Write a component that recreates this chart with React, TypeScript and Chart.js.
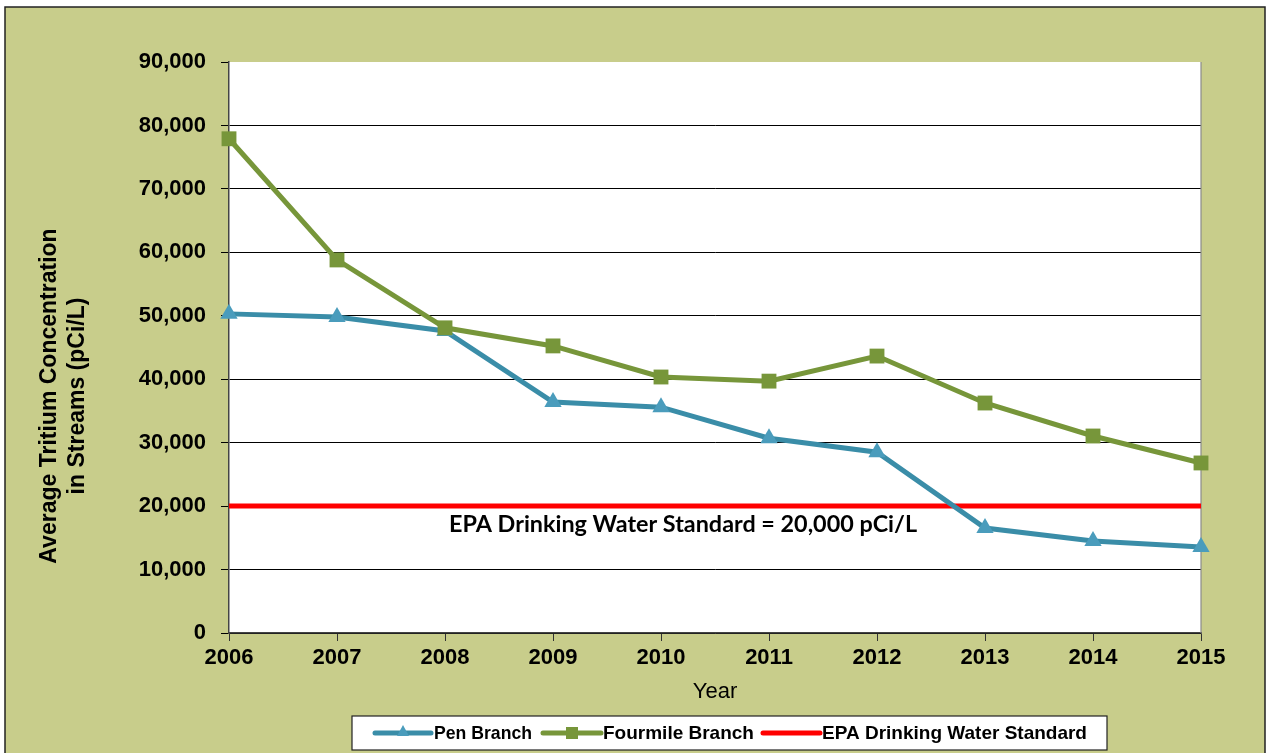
import React, { useEffect, useRef } from "react";
import { Chart, registerables } from "chart.js";

Chart.register(...registerables);

const years = ["2006", "2007", "2008", "2009", "2010", "2011", "2012", "2013", "2014", "2015"];
const penBranch = [50300, 49800, 47600, 36400, 35600, 30700, 28500, 16550, 14500, 13550];
const fourmileBranch = [77900, 58800, 48100, 45250, 40350, 39700, 43650, 36250, 31050, 26800];
const epaStandard = [20000, 20000, 20000, 20000, 20000, 20000, 20000, 20000, 20000, 20000];
const yTitleLines = ["Average Tritium Concentration", "in Streams (pCi/L)"];
const annotationText = "EPA Drinking Water Standard = 20,000 pCi/L";
const legendLabels = ["Pen Branch", "Fourmile Branch", "EPA Drinking Water Standard"];

const TEAL = "#3A8DA8";
const TEAL_PT = "#4A9CBC";
const GREEN = "#77963A";
const RED = "#FF0000";
const OLIVE = "#C8CD8B";
const FONT = '"Liberation Sans", Arial, sans-serif';

const decorPlugin = {
  id: "decor",
  beforeDraw(chart: any) {
    const { ctx, chartArea } = chart;
    ctx.save();
    ctx.fillStyle = "#FFFFFF";
    ctx.fillRect(0, 0, chart.width, chart.height);
    ctx.fillStyle = OLIVE;
    ctx.fillRect(5, 7, 1260, chart.height);
    ctx.strokeStyle = "#222";
    ctx.lineWidth = 1.5;
    ctx.beginPath();
    ctx.moveTo(5, chart.height + 2);
    ctx.lineTo(5, 7);
    ctx.lineTo(1265, 7);
    ctx.lineTo(1265, chart.height + 2);
    ctx.stroke();
    ctx.fillStyle = "#FFFFFF";
    ctx.fillRect(chartArea.left, chartArea.top, chartArea.right - chartArea.left, chartArea.bottom - chartArea.top);
    ctx.restore();
  },
  beforeDatasetsDraw(chart: any) {
    const { ctx, chartArea } = chart;
    ctx.save();
    ctx.strokeStyle = "#8A8A8A";
    ctx.lineWidth = 1.2;
    ctx.beginPath();
    ctx.moveTo(chartArea.right, chartArea.top);
    ctx.lineTo(chartArea.right, chartArea.bottom);
    ctx.stroke();
    ctx.restore();
  },
  afterDatasetsDraw(chart: any) {
    const { ctx, chartArea, scales } = chart;
    ctx.save();
    const yEpa = scales.y.getPixelForValue(20000);
    ctx.font = 'bold 20px "Lato"';
    const w = ctx.measureText(annotationText).width;
    const size = (20 * 468) / w;
    ctx.font = `bold ${size.toFixed(2)}px "Lato"`;
    ctx.fillStyle = "#000";
    ctx.textAlign = "left";
    ctx.textBaseline = "middle";
    ctx.fillText(annotationText, chartArea.left + 220, yEpa + 18);
    ctx.restore();
  },
  afterDraw(chart: any) {
    const { ctx } = chart;
    ctx.save();
    ctx.font = `bold 23px ${FONT}`;
    ctx.fillStyle = "#000";
    ctx.textAlign = "center";
    ctx.textBaseline = "middle";
    const cy = 396;
    yTitleLines.forEach((line, i) => {
      ctx.save();
      ctx.translate(50 + i * 28, cy);
      ctx.rotate(-Math.PI / 2);
      ctx.fillText(line, 0, 0);
      ctx.restore();
    });

    const lx = 352, ly = 716, lw = 755, lh = 34;
    ctx.fillStyle = "#FFFFFF";
    ctx.fillRect(lx, ly, lw, lh);
    ctx.strokeStyle = "#222";
    ctx.lineWidth = 1.2;
    ctx.strokeRect(lx, ly, lw, lh);
    const cyL = ly + lh / 2;
    const items = [
      { x1: 375, x2: 431, color: TEAL, pt: "triangle", ptColor: TEAL_PT, label: legendLabels[0], tx: 434, tw: 98 },
      { x1: 543, x2: 601, color: GREEN, pt: "rect", ptColor: GREEN, label: legendLabels[1], tx: 603, tw: 152 },
      { x1: 763, x2: 820, color: RED, pt: null, ptColor: RED, label: legendLabels[2], tx: 822, tw: 273 },
    ];
    items.forEach((it) => {
      ctx.strokeStyle = it.color;
      ctx.lineWidth = 5;
      ctx.lineCap = "round";
      ctx.beginPath();
      ctx.moveTo(it.x1, cyL);
      ctx.lineTo(it.x2, cyL);
      ctx.stroke();
      const mx = (it.x1 + it.x2) / 2;
      ctx.fillStyle = it.ptColor;
      if (it.pt === "triangle") {
        ctx.beginPath();
        ctx.moveTo(mx, cyL - 8);
        ctx.lineTo(mx + 6, cyL + 3);
        ctx.lineTo(mx - 6, cyL + 3);
        ctx.closePath();
        ctx.fill();
      } else if (it.pt === "rect") {
        ctx.fillRect(mx - 6, cyL - 6, 12, 12);
      }
      ctx.fillStyle = "#000";
      ctx.font = `bold 19px ${FONT}`;
      ctx.textAlign = "left";
      ctx.textBaseline = "middle";
      ctx.fillText(it.label, it.tx, cyL + 1, it.tw);
    });
    ctx.restore();
  },
};

export default function App() {
  const canvasRef = useRef<HTMLCanvasElement | null>(null);

  useEffect(() => {
    if (!canvasRef.current) return;
    document.body.style.margin = "0";
    document.body.style.overflow = "hidden";
    const chart = new Chart(canvasRef.current, {
      type: "line",
      data: {
        labels: years,
        datasets: [
          {
            label: legendLabels[0],
            data: penBranch,
            borderColor: TEAL,
            backgroundColor: TEAL_PT,
            borderWidth: 5,
            pointStyle: "triangle",
            pointRadius: 10,
            pointBorderWidth: 0,
            pointBackgroundColor: TEAL_PT,
            tension: 0,
            clip: false as any,
            order: 1,
          },
          {
            label: legendLabels[1],
            data: fourmileBranch,
            borderColor: GREEN,
            backgroundColor: GREEN,
            borderWidth: 5,
            pointStyle: "rect",
            pointRadius: 10.5,
            pointBorderWidth: 0,
            pointBackgroundColor: GREEN,
            tension: 0,
            clip: false as any,
            order: 0,
          },
          {
            label: legendLabels[2],
            data: epaStandard,
            borderColor: RED,
            backgroundColor: RED,
            borderWidth: 5,
            pointRadius: 0,
            tension: 0,
            clip: false as any,
            order: 2,
          },
        ],
      },
      options: {
        animation: false,
        responsive: true,
        maintainAspectRatio: false,
        layout: { padding: { left: 36, right: 69, top: 62, bottom: 48 } },
        plugins: {
          legend: { display: false },
          tooltip: { enabled: false },
        },
        scales: {
          x: {
            type: "category",
            offset: false,
            grid: {
              display: true,
              drawOnChartArea: false,
              drawTicks: true,
              tickLength: 8,
              tickColor: "#333",
            },
            border: { display: true, color: "#444", width: 1.5 },
            ticks: {
              color: "#000",
              padding: 4,
              autoSkip: false,
              maxRotation: 0,
              font: { family: FONT, size: 22, weight: "bold" },
            },
            title: {
              display: true,
              text: "Year",
              color: "#000",
              padding: { top: 0, bottom: 1 },
              font: { family: FONT, size: 22, weight: "normal", lineHeight: 1.1 },
            },
            afterFit: (scale: any) => {
              scale.height = 72;
            },
          },
          y: {
            min: 0,
            max: 90000,
            ticks: {
              stepSize: 10000,
              color: "#000",
              padding: 15,
              font: { family: FONT, size: 22, weight: "bold" },
              callback: (v: any) => Number(v).toLocaleString("en-US"),
            },
            grid: {
              color: (c: any) => (c.tick && c.tick.value === 90000 ? "rgba(0,0,0,0)" : "#000"),
              tickColor: "#000",
              lineWidth: 1,
              tickLength: 8,
              drawTicks: true,
            },
            border: { display: true, color: "#444", width: 1.5 },
            afterFit: (scale: any) => {
              scale.width = 193;
            },
          },
        },
      },
      plugins: [decorPlugin],
    });
    return () => chart.destroy();
  }, []);

  return (
    <div style={{ position: "fixed", left: 0, top: 0, width: 1270, height: 753 }}>
      <canvas ref={canvasRef} />
    </div>
  );
}
